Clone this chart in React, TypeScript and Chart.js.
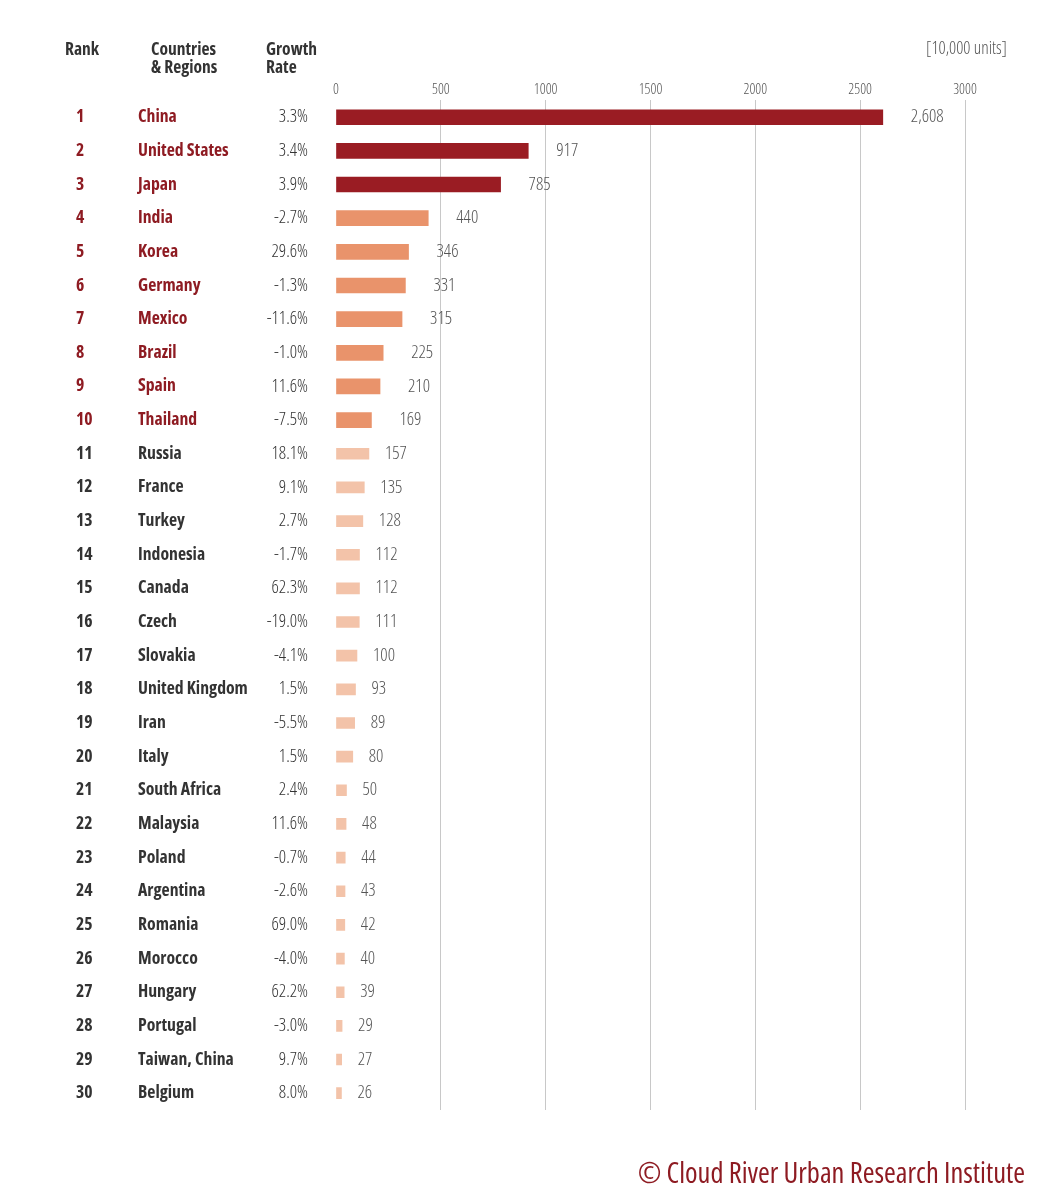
import React, { useEffect, useRef } from "react";
import { Chart, registerables } from "chart.js";

Chart.register(...registerables);

const ranks = [1,2,3,4,5,6,7,8,9,10,11,12,13,14,15,16,17,18,19,20,21,22,23,24,25,26,27,28,29,30];
const countries = ["China","United States","Japan","India","Korea","Germany","Mexico","Brazil","Spain","Thailand","Russia","France","Turkey","Indonesia","Canada","Czech","Slovakia","United Kingdom","Iran","Italy","South Africa","Malaysia","Poland","Argentina","Romania","Morocco","Hungary","Portugal","Taiwan, China","Belgium"];
const values = [2608,917,785,440,346,331,315,225,210,169,157,135,128,112,112,111,100,93,89,80,50,48,44,43,42,40,39,29,27,26];
const growth = [3.3,3.4,3.9,-2.7,29.6,-1.3,-11.6,-1.0,11.6,-7.5,18.1,9.1,2.7,-1.7,62.3,-19.0,-4.1,1.5,-5.5,1.5,2.4,11.6,-0.7,-2.6,69.0,-4.0,62.2,-3.0,9.7,8.0];
const xTicks = [0,500,1000,1500,2000,2500,3000];
const unitLabel = "[10,000 units]";
const headers = { rank: ["Rank"], country: ["Countries", "& Regions"], growth: ["Growth", "Rate"] };
const footer = "\u00A9 Cloud River Urban Research Institute";

const DARK = "#9a1c23";
const MID = "#e9936b";
const LIGHT = "#f3c3a9";
const RED_TEXT = "#8e1b22";
const TEXT = "#333333";
const LIGHT_TEXT = "#555555";
const FAMILY = "'Open Sans', 'Noto Sans', sans-serif";

const tierColor = (i: number) => (i < 3 ? DARK : i < 10 ? MID : LIGHT);

function setFont(ctx: CanvasRenderingContext2D, weight: string | number, size: number) {
  ctx.font = `${weight} ${size}px ${FAMILY}`;
  try { (ctx as any).fontStretch = "condensed"; } catch (e) {}
}

const sidePlugin = {
  id: "sideColumns",
  afterDatasetsDraw(chart: any) {
    const ctx: CanvasRenderingContext2D = chart.ctx;
    const y = chart.scales.y;
    const x = chart.scales.x;
    ctx.save();
    ctx.textBaseline = "middle";
    // headers
    setFont(ctx, 700, 17.5);
    ctx.fillStyle = TEXT;
    ctx.textAlign = "left";
    headers.rank.forEach((t, k) => ctx.fillText(t, 65, 50 + k * 18));
    headers.country.forEach((t, k) => ctx.fillText(t, 151, 50 + k * 18));
    headers.growth.forEach((t, k) => ctx.fillText(t, 266, 50 + k * 18));
    setFont(ctx, 300, 17.5);
    ctx.fillStyle = LIGHT_TEXT;
    ctx.textAlign = "right";
    ctx.fillText(unitLabel, 1007, 49);

    countries.forEach((c, i) => {
      const py = y.getPixelForValue(i);
      const top10 = i < 10;
      setFont(ctx, 700, 17.7);
      ctx.fillStyle = top10 ? RED_TEXT : TEXT;
      ctx.textAlign = "left";
      ctx.fillText(String(ranks[i]), 76, py);
      ctx.fillText(c, 138, py);
      setFont(ctx, 300, 18);
      ctx.fillStyle = TEXT;
      ctx.textAlign = "right";
      ctx.fillText(growth[i].toFixed(1) + "%", 308, py);
      ctx.fillStyle = LIGHT_TEXT;
      ctx.textAlign = "left";
      const gap = top10 ? 28 : 16;
      ctx.fillText(values[i].toLocaleString("en-US"), x.getPixelForValue(values[i]) + gap, py);
    });

    setFont(ctx, 400, 28.5);
    ctx.fillStyle = RED_TEXT;
    ctx.textAlign = "right";
    ctx.fillText(footer, 1025, 1175);
    ctx.restore();
  },
};

export default function App() {
  const ref = useRef<HTMLCanvasElement>(null);
  useEffect(() => {
    document.body.style.margin = "0";
    const canvas = ref.current!;
    const chart = new Chart(canvas, {
      type: "bar",
      data: {
        labels: countries,
        datasets: [
          {
            data: values.map((v, i) => (i < 10 ? v : null)),
            backgroundColor: values.map((_, i) => tierColor(i)),
            barThickness: 15,
            grouped: false,
          } as any,
          {
            data: values.map((v, i) => (i >= 10 ? v : null)),
            backgroundColor: values.map((_, i) => tierColor(i)),
            barThickness: 11,
            grouped: false,
          } as any,
        ],
      },
      options: {
        responsive: false,
        animation: false,
        indexAxis: "y",
        layout: { padding: { left: 336, right: 85, top: 79, bottom: 90 } },
        plugins: { legend: { display: false }, tooltip: { enabled: false } },
        scales: {
          x: {
            position: "top",
            min: 0,
            max: 3000,
            afterBuildTicks: (axis: any) => {
              axis.ticks = xTicks.map((v) => ({ value: v }));
            },
            grid: {
              color: (c: any) => (c.tick && c.tick.value === 0 ? "rgba(0,0,0,0)" : "#c8c8c8"),
              drawTicks: false,
              lineWidth: 1,
            },
            border: { display: false },
            ticks: {
              padding: 2,
              color: LIGHT_TEXT,
              font: { family: FAMILY, size: 14.5, weight: "300 condensed" as any },
              callback: (v: any) => String(v),
            },
          },
          y: {
            display: false,
            grid: { display: false },
          },
        },
      },
      plugins: [sidePlugin],
    });
    return () => chart.destroy();
  }, []);
  return (
    <div style={{ position: "absolute", left: 0, top: 0, width: 1050, height: 1200 }}>
      <canvas ref={ref} width={1050} height={1200} />
    </div>
  );
}
